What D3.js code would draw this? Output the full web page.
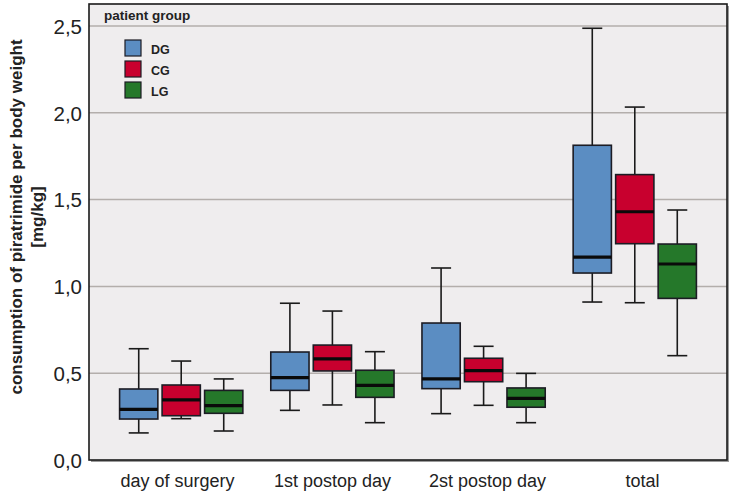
<!DOCTYPE html>
<html><head><meta charset="utf-8">
<script src="https://cdn.jsdelivr.net/npm/d3@7"></script>
<style>body{margin:0;background:#fff;} text{font-family:"Liberation Sans",Arial,Helvetica,sans-serif;}</style>
</head><body><svg id="c" width="733" height="495"></svg>
<script>
const categories = ["day of surgery", "1st postop day", "2st postop day", "total"];
const groups = ["DG", "CG", "LG"];
const colors = ["#5b8dc2", "#c8002e", "#25782a"];
const yTicks = [0, 0.5, 1.0, 1.5, 2.0, 2.5];
const yTickLabels = ["0,0", "0,5", "1,0", "1,5", "2,0", "2,5"];
// [whiskerLow, q1, median, q3, whiskerHigh] per category for each group
const dgStats = [[0.156, 0.236, 0.292, 0.409, 0.641], [0.286, 0.401, 0.474, 0.622, 0.903], [0.267, 0.411, 0.467, 0.789, 1.106], [0.910, 1.077, 1.169, 1.813, 2.487]];
const cgStats = [[0.238, 0.255, 0.346, 0.432, 0.570], [0.317, 0.513, 0.582, 0.662, 0.858], [0.315, 0.451, 0.515, 0.586, 0.655], [0.906, 1.246, 1.430, 1.644, 2.033]];
const lgStats = [[0.167, 0.269, 0.313, 0.401, 0.467], [0.215, 0.361, 0.430, 0.517, 0.624], [0.215, 0.304, 0.355, 0.415, 0.499], [0.601, 0.931, 1.129, 1.244, 1.440]];
const allStats = [dgStats, cgStats, lgStats];

const svg = d3.select("#c");
const L = 89, R = 727, T = 4, B = 460;
const y = d3.scaleLinear().domain([0, 2.5]).range([B, 26]);
const x0 = d3.scaleBand().domain(categories).range([L, R]).paddingInner(0).paddingOuter(0.11);
const x1 = d3.scaleBand().domain(groups).range([0, 127.5]).paddingInner(0.1).paddingOuter(0.05);
const gOff = (x0.bandwidth() - 127.5) / 2;
const xLabel = d3.scalePoint().domain(categories).range([177, 642]);

// plot background
svg.append("rect").attr("x", L + 2).attr("y", T + 2).attr("width", R - L).attr("height", B - T).attr("fill", "#9a9a9a");
svg.append("rect").attr("x", L).attr("y", T).attr("width", R - L).attr("height", B - T).attr("fill", "#efedee");

// gridlines
svg.append("g").selectAll("line").data(yTicks.filter(d => d > 0)).join("line")
  .attr("x1", L).attr("x2", R).attr("y1", d => y(d)).attr("y2", d => y(d))
  .attr("stroke", "#b3aeab").attr("stroke-width", 1.5);

// y axis labels
const yAxis = d3.axisLeft(y).tickValues(yTicks).tickFormat((d, i) => yTickLabels[i]).tickSize(0).tickPadding(7);
const ya = svg.append("g").attr("transform", `translate(${L},0)`).call(yAxis);
ya.select(".domain").remove();
ya.selectAll("text").attr("font-size", 20.5).attr("fill", "#222").attr("dy", "0.36em").style("font-family", '"Liberation Sans",Arial,sans-serif');

// x axis labels
const xAxis = d3.axisBottom(xLabel).tickSize(0).tickPadding(14);
const xa = svg.append("g").attr("transform", `translate(0,${B})`).call(xAxis);
xa.select(".domain").remove();
xa.selectAll("text").attr("font-size", 18).attr("fill", "#222").style("font-family", '"Liberation Sans",Arial,sans-serif');

// boxes
const capW = 20;
groups.forEach((g, gi) => {
  const stats = allStats[gi];
  const gg = svg.append("g");
  stats.forEach((s, ci) => {
    const xl = x0(categories[ci]) + gOff + x1(g);
    const w = x1.bandwidth();
    const cx = xl + w / 2;
    const b = gg.append("g");
    b.append("line").attr("x1", cx).attr("x2", cx).attr("y1", y(s[0])).attr("y2", y(s[1])).attr("stroke", "#1a1a1a").attr("stroke-width", 1.6);
    b.append("line").attr("x1", cx).attr("x2", cx).attr("y1", y(s[3])).attr("y2", y(s[4])).attr("stroke", "#1a1a1a").attr("stroke-width", 1.6);
    b.append("line").attr("x1", cx - capW / 2).attr("x2", cx + capW / 2).attr("y1", y(s[0])).attr("y2", y(s[0])).attr("stroke", "#1a1a1a").attr("stroke-width", 1.6);
    b.append("line").attr("x1", cx - capW / 2).attr("x2", cx + capW / 2).attr("y1", y(s[4])).attr("y2", y(s[4])).attr("stroke", "#1a1a1a").attr("stroke-width", 1.6);
    b.append("rect").attr("x", xl).attr("y", y(s[3])).attr("width", w).attr("height", y(s[1]) - y(s[3]))
      .attr("fill", colors[gi]).attr("stroke", "#1c1c24").attr("stroke-width", 1.6);
    b.append("line").attr("x1", xl).attr("x2", xl + w).attr("y1", y(s[2])).attr("y2", y(s[2])).attr("stroke", "#0a0a0a").attr("stroke-width", 3.2);
  });
});

// frame
svg.append("rect").attr("x", L).attr("y", T).attr("width", R - L).attr("height", B - T)
  .attr("fill", "none").attr("stroke", "#1a1a1a").attr("stroke-width", 1.6);

// legend
svg.append("text").attr("x", 104).attr("y", 19.5).attr("font-size", 13.5).attr("font-weight", "bold").attr("fill", "#222").text("patient group");
const lg = svg.append("g");
groups.forEach((g, i) => {
  lg.append("rect").attr("x", 125).attr("y", 40 + i * 21).attr("width", 16).attr("height", 16)
    .attr("fill", colors[i]).attr("stroke", "#1c1c24").attr("stroke-width", 1.2);
  lg.append("text").attr("x", 151).attr("y", 54 + i * 21).attr("font-size", 12.5).attr("font-weight", "bold").attr("fill", "#222").text(g);
});

// y title
const yt = svg.append("text").attr("transform", "translate(22,217) rotate(-90)").attr("text-anchor", "middle")
  .attr("font-size", 17).attr("font-weight", "bold").attr("fill", "#222");
yt.append("tspan").attr("x", 0).attr("dy", 0).text("consumption of piratrimide per body weight");
yt.append("tspan").attr("x", 0).attr("dy", 21).text("[mg/kg]");
</script></body></html>
